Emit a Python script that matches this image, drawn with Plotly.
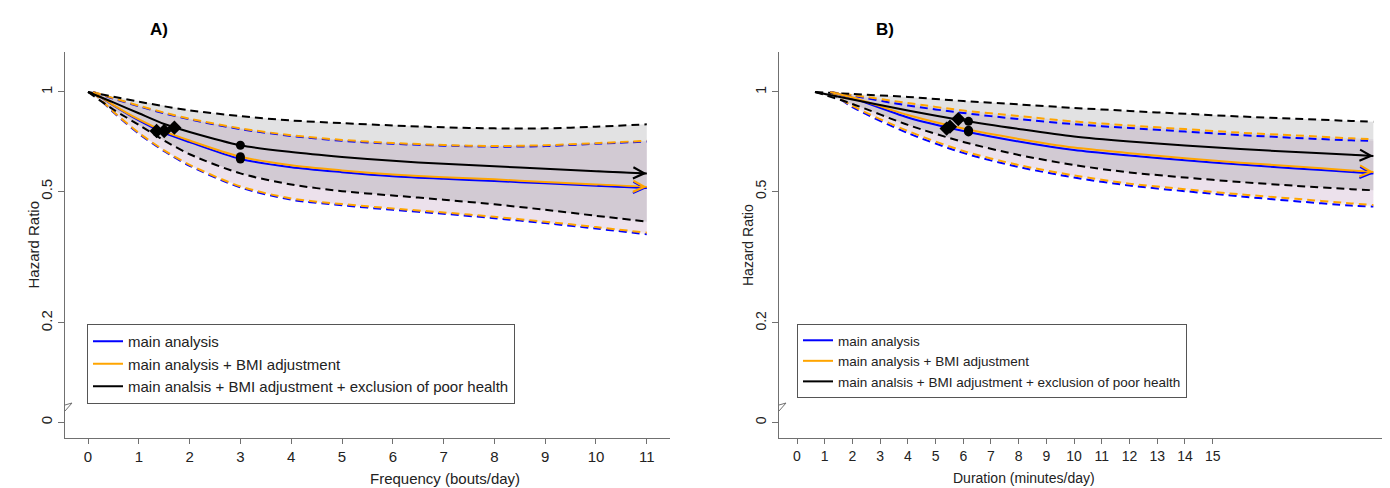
import numpy as np
import plotly.graph_objects as go

# ---------------- Panel A : Frequency (bouts/day) ----------------
freq_x_black = [0, 0.5, 1, 1.5, 2, 3, 4, 5, 6, 7, 8, 9, 10, 11]
freq_black = [1.0, 0.93, 0.862, 0.80, 0.757, 0.69, 0.658, 0.636, 0.619, 0.606, 0.596, 0.586, 0.576, 0.567]
freq_black_hi = [1.0, 0.968, 0.935, 0.905, 0.88, 0.845, 0.82, 0.805, 0.792, 0.782, 0.776, 0.776, 0.785, 0.798]
freq_black_lo = [1.0, 0.885, 0.795, 0.713, 0.648, 0.567, 0.525, 0.501, 0.486, 0.472, 0.457, 0.440, 0.422, 0.405]

freq_x_bo = [0.1, 0.5, 1, 1.5, 2, 3, 4, 5, 6, 7, 8, 9, 10, 11]
freq_blue = [1.0, 0.91, 0.82, 0.752, 0.705, 0.627, 0.592, 0.572, 0.556, 0.546, 0.538, 0.529, 0.520, 0.512]
freq_orange = [1.0, 0.913, 0.826, 0.760, 0.713, 0.637, 0.600, 0.579, 0.563, 0.552, 0.544, 0.534, 0.525, 0.516]
freq_blue_hi = [1.0, 0.955, 0.905, 0.862, 0.826, 0.772, 0.736, 0.712, 0.697, 0.688, 0.683, 0.686, 0.697, 0.708]
freq_orange_hi = [1.0, 0.958, 0.909, 0.866, 0.830, 0.776, 0.740, 0.716, 0.701, 0.691, 0.686, 0.690, 0.700, 0.712]
freq_blue_lo = [1.0, 0.868, 0.748, 0.662, 0.598, 0.514, 0.472, 0.454, 0.440, 0.428, 0.415, 0.401, 0.386, 0.371]
freq_orange_lo = [1.0, 0.872, 0.752, 0.666, 0.602, 0.518, 0.476, 0.458, 0.444, 0.432, 0.419, 0.405, 0.390, 0.375]

freq_diamond_x = [1.35, 1.50, 1.70]          # blue, orange, black
freq_diamond_y = [0.762, 0.762, 0.78]
freq_dot_x = [3, 3, 3]
freq_dot_y = [0.627, 0.637, 0.69]

# ---------------- Panel B : Duration (minutes/day) ----------------
dur_x_black = [0.65, 2, 4, 6, 8, 10, 12, 14, 16, 18, 20, 20.8]
dur_black = [1.0, 0.949, 0.879, 0.82, 0.773, 0.733, 0.708, 0.689, 0.672, 0.658, 0.646, 0.64]
dur_black_hi = [1.0, 0.986, 0.966, 0.939, 0.917, 0.895, 0.876, 0.859, 0.843, 0.83, 0.817, 0.813]
dur_black_lo = [1.0, 0.92, 0.795, 0.706, 0.645, 0.601, 0.571, 0.551, 0.534, 0.52, 0.508, 0.504]

dur_x_bo = [1.2, 2, 4, 6, 8, 10, 12, 14, 16, 18, 20, 20.8]
dur_blue = [1.0, 0.959, 0.837, 0.762, 0.708, 0.667, 0.642, 0.621, 0.603, 0.587, 0.573, 0.567]
dur_orange = [1.0, 0.962, 0.852, 0.775, 0.721, 0.679, 0.653, 0.630, 0.611, 0.595, 0.579, 0.573]
dur_blue_hi = [1.0, 0.974, 0.910, 0.864, 0.828, 0.799, 0.778, 0.759, 0.741, 0.726, 0.714, 0.711]
dur_orange_hi = [1.0, 0.979, 0.926, 0.879, 0.846, 0.814, 0.792, 0.772, 0.753, 0.739, 0.724, 0.719]
dur_blue_lo = [1.0, 0.900, 0.751, 0.654, 0.593, 0.551, 0.521, 0.501, 0.483, 0.467, 0.453, 0.450]
dur_orange_lo = [1.0, 0.907, 0.762, 0.663, 0.601, 0.559, 0.528, 0.508, 0.490, 0.475, 0.460, 0.455]

dur_diamond_x = [5.40, 5.52, 5.82]
dur_diamond_y = [0.775, 0.785, 0.828]
dur_dot_x = [6.19, 6.19, 6.19]
dur_dot_y = [0.757, 0.766, 0.815]

# ---------------- ticks / labels ----------------
freq_ticks = list(range(0, 12))
dur_ticks = list(range(0, 16))
y_tickvals = [0.1, 0.2, 0.5, 1]
y_ticktext = ["0", "0.2", "0.5", "1"]

legend_names = ["main analysis", "main analysis + BMI adjustment",
                "main analsis + BMI adjustment + exclusion of poor health"]

BLUE = "#0000FF"
ORANGE = "#FFA500"
BLACK = "#000000"
FILL_BO = "rgba(190,150,190,0.15)"
FILL_BLACK = "rgba(110,110,115,0.20)"
DASH = "8px,5px"

# page has an 8px body margin: lay out in page pixels, convert to paper fractions
OFF = 8
W, H = 1390 - OFF, 488 - OFF


def px(x):
    return (x - OFF) / W


def py(y):
    return 1 - (y - OFF) / H


fig = go.Figure()


def add_panel(xa, ya, legend, xb, xbo, black, bhi, blo, blue, bluehi, bluelo,
              orange, orhi, orlo, dx, dy, ox, oy):
    for xs, hi, lo, col in [(xbo, bluehi, bluelo, FILL_BO), (xbo, orhi, orlo, FILL_BO),
                            (xb, bhi, blo, FILL_BLACK)]:
        fig.add_trace(go.Scatter(x=list(xs) + list(xs)[::-1], y=list(hi) + list(lo)[::-1],
                                 fill="toself", fillcolor=col, mode="lines",
                                 line=dict(width=0), hoverinfo="skip", showlegend=False,
                                 xaxis=xa, yaxis=ya))
    for xs, vals, col in [(xbo, bluehi, BLUE), (xbo, orhi, ORANGE), (xbo, bluelo, BLUE),
                          (xbo, orlo, ORANGE), (xb, bhi, BLACK), (xb, blo, BLACK)]:
        fig.add_trace(go.Scatter(x=xs, y=vals, mode="lines",
                                 line=dict(color=col, width=2, dash=DASH, shape="spline", smoothing=0.8),
                                 hoverinfo="skip", showlegend=False, xaxis=xa, yaxis=ya))
    for xs, vals, col, name in [(xbo, blue, BLUE, legend_names[0]),
                                (xbo, orange, ORANGE, legend_names[1]),
                                (xb, black, BLACK, legend_names[2])]:
        fig.add_trace(go.Scatter(x=xs, y=vals, mode="lines", name=name,
                                 line=dict(color=col, width=2, shape="spline", smoothing=0.8),
                                 showlegend=True, legend=legend, xaxis=xa, yaxis=ya))
        fig.add_annotation(x=xs[-1], y=np.log10(vals[-1]), ax=xs[-2], ay=np.log10(vals[-2]),
                           xref=xa, yref=ya, axref=xa, ayref=ya, text="", showarrow=True,
                           arrowhead=5, arrowsize=2.2, arrowwidth=1, arrowcolor=col, standoff=0)
    fig.add_trace(go.Scatter(x=dx, y=dy, mode="markers",
                             marker=dict(symbol="diamond", size=11, color=BLACK),
                             showlegend=False, xaxis=xa, yaxis=ya))
    fig.add_trace(go.Scatter(x=ox, y=oy, mode="markers",
                             marker=dict(symbol="circle", size=9, color=BLACK),
                             showlegend=False, xaxis=xa, yaxis=ya))


add_panel("x", "y", "legend", freq_x_black, freq_x_bo, freq_black, freq_black_hi, freq_black_lo,
          freq_blue, freq_blue_hi, freq_blue_lo, freq_orange, freq_orange_hi, freq_orange_lo,
          freq_diamond_x, freq_diamond_y, freq_dot_x, freq_dot_y)
add_panel("x2", "y2", "legend2", dur_x_black, dur_x_bo, dur_black, dur_black_hi, dur_black_lo,
          dur_blue, dur_blue_hi, dur_blue_lo, dur_orange, dur_orange_hi, dur_orange_lo,
          dur_diamond_x, dur_diamond_y, dur_dot_x, dur_dot_y)

FONT = "Liberation Sans, Arial, sans-serif"
AX = "#707070"
TXT = "#222222"

y_dom = [py(438), py(52)]
y_rng = [-1.0472, 0.121]


def xaxis_cfg(dom, rng, ticks, size):
    return dict(domain=dom, range=rng, tickmode="array", tickvals=ticks, ticktext=[str(t) for t in ticks],
                showline=True, linecolor=AX, linewidth=1, ticks="outside", ticklen=5, tickcolor=AX,
                showgrid=False, zeroline=False, tickfont=dict(family=FONT, size=size, color=TXT))


def yaxis_cfg(anchor, size):
    return dict(domain=y_dom, type="log", range=y_rng, anchor=anchor, tickmode="array",
                tickvals=y_tickvals, ticktext=y_ticktext, tickangle=-90,
                showline=True, linecolor=AX, linewidth=1, ticks="outside", ticklen=6, tickcolor=AX,
                showgrid=False, zeroline=False, tickfont=dict(family=FONT, size=size, color=TXT))


fig.update_layout(
    width=W, height=H, margin=dict(l=0, r=0, t=0, b=0),
    paper_bgcolor="white", plot_bgcolor="white",
    xaxis=xaxis_cfg([px(65), px(670)], [-0.453, 11.457], freq_ticks, 15),
    yaxis=yaxis_cfg("x", 15),
    xaxis2=xaxis_cfg([px(779), 1.0], [-0.65, 21.4], dur_ticks, 14),
    yaxis2=yaxis_cfg("x2", 14),
    legend=dict(x=px(87), y=py(324), xanchor="left", yanchor="top", bordercolor="#555555",
                borderwidth=1, bgcolor="rgba(255,255,255,0)", itemwidth=30, tracegroupgap=0,
                font=dict(family=FONT, size=15, color=TXT)),
    legend2=dict(x=px(797), y=py(324), xanchor="left", yanchor="top", bordercolor="#555555",
                 borderwidth=1, bgcolor="rgba(255,255,255,0)", itemwidth=30, tracegroupgap=0,
                 font=dict(family=FONT, size=13.5, color=TXT)),
    showlegend=True,
)

for xa, ya in [("x", "y"), ("x2", "y2")]:
    fig.add_shape(type="line", xref=f"{xa} domain", yref=ya, x0=0, x1=1,
                  y0=np.log10(1), y1=np.log10(1), line=dict(color="#9a9a9a", width=1), layer="below")

for xa in ["x", "x2"]:
    fig.add_shape(type="path", xref=f"{xa} domain", yref="paper", xsizemode="pixel", ysizemode="pixel",
                  xanchor=0, yanchor=py(408), path="M0,3 L7,5 L0,-3",
                  line=dict(color=AX, width=1))

fig.add_annotation(text="<b>A)</b>", x=px(148), y=py(18), xref="paper", yref="paper",
                   showarrow=False, font=dict(family=FONT, size=17, color=BLACK))
fig.add_annotation(text="<b>B)</b>", x=px(885), y=py(18), xref="paper", yref="paper",
                   showarrow=False, font=dict(family=FONT, size=17, color=BLACK))
fig.add_annotation(text="Frequency (bouts/day)", x=px(368), y=py(478), xref="paper", yref="paper",
                   yanchor="middle", showarrow=False, font=dict(family=FONT, size=15, color=TXT))
fig.add_annotation(text="Duration (minutes/day)", x=px(1097), y=py(478), xref="paper", yref="paper",
                   yanchor="middle", showarrow=False, font=dict(family=FONT, size=14, color=TXT))
fig.add_annotation(text="Hazard Ratio", x=px(22), y=py(245), xref="paper", yref="paper",
                   showarrow=False, textangle=-90, font=dict(family=FONT, size=15, color=TXT))
fig.add_annotation(text="Hazard Ratio", x=px(748), y=py(245), xref="paper", yref="paper",
                   showarrow=False, textangle=-90, font=dict(family=FONT, size=14, color=TXT))

fig.write_html("out.html")
